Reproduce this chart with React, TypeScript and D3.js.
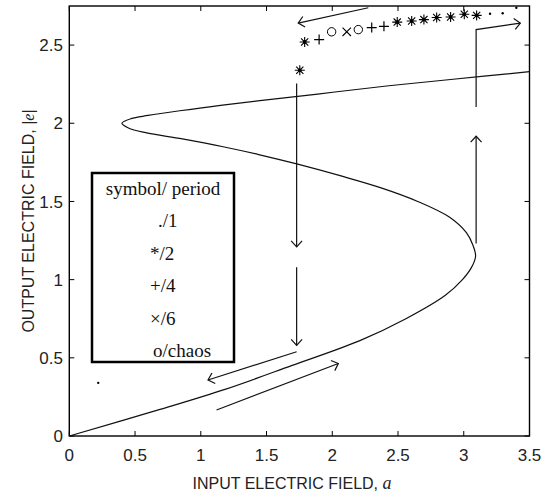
import React from 'react';
import * as d3 from 'd3';

// S-shaped response curve (output |e| -> input a)
const curveOutput = [0, 0.17, 0.3, 0.45, 0.61, 0.75, 0.9, 1.0, 1.08, 1.15, 1.22, 1.3, 1.4, 1.5, 1.59, 1.66, 1.74, 1.8, 1.85, 1.9, 1.94, 1.97, 2.0, 2.03, 2.05, 2.08, 2.115, 2.17, 2.2, 2.24, 2.28, 2.33];
const curveInput = [0, 0.69, 1.19, 1.69, 2.21, 2.56, 2.86, 2.99, 3.06, 3.09, 3.07, 3.02, 2.89, 2.65, 2.36, 2.08, 1.73, 1.44, 1.17, 0.86, 0.58, 0.45, 0.4, 0.47, 0.6, 0.84, 1.15, 1.72, 2.02, 2.43, 2.9, 3.5];

// simulated points, symbol = period
const markerInput = [0.22, 1.753, 1.79, 1.9, 1.995, 2.11, 2.198, 2.3, 2.393, 2.494, 2.604, 2.697, 2.794, 2.9, 3.004, 3.098, 3.2, 3.296, 3.4];
const markerOutput = [0.34, 2.339, 2.52, 2.535, 2.585, 2.585, 2.599, 2.612, 2.62, 2.647, 2.654, 2.663, 2.676, 2.68, 2.697, 2.69, 2.7, 2.704, 2.739];
const markerSymbol = ['.', '*', '*', '+', 'o', 'x', 'o', '+', '+', '*', '*', '*', '*', '*', '*', '*', '.', '.', '.'];

// hysteresis arrows, [input, output] polylines, head at the last point
const arrowPaths: [number, number][][] = [
  [[2.274, 2.739], [1.741, 2.641]],
  [[3.094, 2.104], [3.094, 2.599], [3.43, 2.641]],
  [[3.094, 1.231], [3.094, 1.917]],
  [[1.729, 2.254], [1.729, 1.21]],
  [[1.729, 1.08], [1.729, 0.58]],
  [[1.729, 0.539], [1.055, 0.358]],
  [[1.12, 0.166], [2.046, 0.464]],
];

const xTicks = [0, 0.5, 1, 1.5, 2, 2.5, 3, 3.5];
const yTicks = [0, 0.5, 1, 1.5, 2, 2.5];
const legendRows = ['./1', '*/2', '+/4', '\u00d7/6', 'o/chaos'];

const W = 547;
const H = 493;
const sans = '"Liberation Sans", Arial, sans-serif';
const serif = '"Liberation Serif", "Times New Roman", serif';

const Marker = ({ s, cx, cy }: { s: string; cx: number; cy: number }) => {
  const r = 5;
  if (s === '.') return <circle cx={cx} cy={cy} r={1.2} fill="#000" />;
  if (s === 'o') return <circle cx={cx} cy={cy} r={4.2} fill="none" stroke="#000" strokeWidth={1} />;
  if (s === '+')
    return <path d={`M${cx - r},${cy}H${cx + r}M${cx},${cy - r}V${cy + r}`} stroke="#000" strokeWidth={1.2} />;
  if (s === 'x') {
    const q = 4.2;
    return <path d={`M${cx - q},${cy - q}L${cx + q},${cy + q}M${cx - q},${cy + q}L${cx + q},${cy - q}`} stroke="#000" strokeWidth={1.1} />;
  }
  const q = 3.6;
  return (
    <g stroke="#000" strokeWidth={1.1}>
      <path d={`M${cx - r},${cy}H${cx + r}M${cx},${cy - r}V${cy + r}M${cx - q},${cy - q}L${cx + q},${cy + q}M${cx - q},${cy + q}L${cx + q},${cy - q}`} />
      <circle cx={cx} cy={cy} r={1.3} fill="#000" />
    </g>
  );
};

export default function App() {
  const x = d3.scaleLinear().domain([0, 3.5]).range([69.3, 529.5]);
  const y = d3.scaleLinear().domain([0, 2.75]).range([436, 6]);

  const curve = d3
    .line<number>()
    .x((_, i) => x(curveInput[i]))
    .y((d) => y(d))
    .curve(d3.curveCatmullRom.alpha(0.5))(curveOutput);

  const arrowLine = d3.line<[number, number]>().x((d) => x(d[0])).y((d) => y(d[1]));

  const head = (pts: [number, number][]) => {
    const [a0, e0] = pts[pts.length - 2];
    const [a1, e1] = pts[pts.length - 1];
    const tx = x(a1), ty = y(e1);
    const ang = Math.atan2(ty - y(e0), tx - x(a0));
    const len = 8, spread = Math.PI / 4.2;
    const p1 = [tx - len * Math.cos(ang - spread), ty - len * Math.sin(ang - spread)];
    const p2 = [tx - len * Math.cos(ang + spread), ty - len * Math.sin(ang + spread)];
    return `M${p1[0]},${p1[1]}L${tx},${ty}L${p2[0]},${p2[1]}`;
  };

  const [x0, x1] = x.range();
  const [y0, y1] = y.range();
  const tick = 5;

  return (
    <svg width={W} height={H} style={{ position: 'absolute', left: 0, top: 0, background: '#fff' }}>
      <rect width={W} height={H} fill="#fff" />

      {/* frame and inward ticks */}
      <rect x={x0} y={y1} width={x1 - x0} height={y0 - y1} fill="none" stroke="#000" strokeWidth={1.4} />
      {xTicks.map((t) => (
        <g key={'xt' + t}>
          <line x1={x(t)} x2={x(t)} y1={y0} y2={y0 - tick} stroke="#000" />
          <line x1={x(t)} x2={x(t)} y1={y1} y2={y1 + tick} stroke="#000" />
          <text x={x(t)} y={461} textAnchor="middle" fontFamily={sans} fontSize={17} fill="#222">
            {t}
          </text>
        </g>
      ))}
      {yTicks.map((t) => (
        <g key={'yt' + t}>
          <line x1={x0} x2={x0 + tick} y1={y(t)} y2={y(t)} stroke="#000" />
          <line x1={x1} x2={x1 - tick} y1={y(t)} y2={y(t)} stroke="#000" />
          <text x={63} y={y(t)} dy="0.36em" textAnchor="end" fontFamily={sans} fontSize={17} fill="#222">
            {t}
          </text>
        </g>
      ))}

      <text x={292} y={489} textAnchor="middle" fontFamily={sans} fontSize={16} fill="#222">
        INPUT ELECTRIC FIELD,{' '}
        <tspan fontFamily={serif} fontStyle="italic" fontSize={18}>a</tspan>
      </text>
      <text transform={`translate(34,${(y0 + y1) / 2}) rotate(-90)`} textAnchor="middle" fontFamily={sans} fontSize={16} fill="#222">
        OUTPUT ELECTRIC FIELD, |<tspan fontFamily={serif} fontStyle="italic">e</tspan>|
      </text>

      {/* response curve */}
      <path d={curve ?? ''} fill="none" stroke="#111" strokeWidth={1.2} />

      {/* arrows */}
      {arrowPaths.map((p, i) => (
        <g key={'ar' + i} fill="none" stroke="#111" strokeWidth={1.2}>
          <path d={arrowLine(p) ?? ''} />
          <path d={head(p)} />
        </g>
      ))}

      {/* markers */}
      {markerInput.map((a, i) => (
        <Marker key={'m' + i} s={markerSymbol[i]} cx={x(a)} cy={y(markerOutput[i])} />
      ))}

      {/* legend */}
      <rect x={92} y={173} width={142} height={189} fill="#fff" stroke="#000" strokeWidth={2.5} />
      <text x={163} y={195} textAnchor="middle" fontFamily={serif} fontSize={19} fill="#111">
        symbol/ period
      </text>
      {legendRows.map((r, i) => (
        <text key={r} x={i === 0 ? 158 : i === 4 ? 153 : 150} y={227 + i * 32.5} fontFamily={serif} fontSize={19} fill="#111">
          {r}
        </text>
      ))}
    </svg>
  );
}
